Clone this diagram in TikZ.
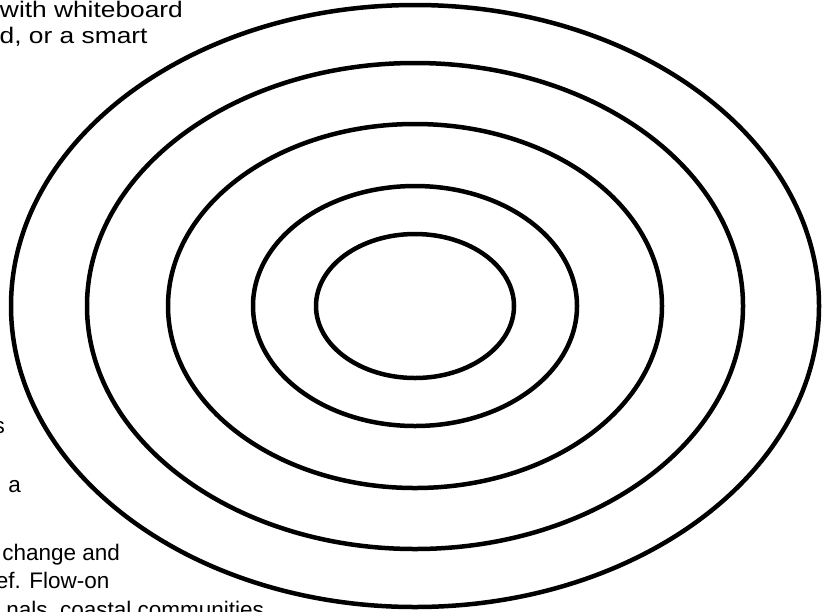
\documentclass[tikz,border=0pt]{standalone}
\usepackage{fontspec}
\setmainfont{Liberation Sans}
\begin{document}
\begin{tikzpicture}[x=1pt,y=-1pt,
  ring/.style={draw=black,line width=4.5pt},
  txt/.style={inner sep=0pt,outer sep=0pt,font=\fontsize{22.5pt}{26pt}\selectfont},
  widetxt/.style={txt}]
\useasboundingbox (0,0) rectangle (834,611);
\clip (0,0) rectangle (834,611);
\coordinate (c) at (415,306);
\draw[ring] (c) ellipse [x radius=404pt, y radius=301pt];
\draw[ring] (c) ellipse [x radius=328pt, y radius=243pt];
\draw[ring] (c) ellipse [x radius=247pt, y radius=182pt];
\draw[ring] (c) ellipse [x radius=162pt, y radius=120pt];
\draw[ring] (c) ellipse [x radius=99pt, y radius=72pt];
\node[widetxt,anchor=base west] (t1) at (0,17) {\scalebox{1.17}[1]{with whiteboard}};
\node[widetxt,anchor=base east] (t2) at (147.5,43) {\scalebox{1.17}[1]{d, or a smart}};
\node[txt,anchor=base east] (t3) at (5,433) {s};
\node[txt,anchor=base west] (t4) at (8.5,492) {a};
\node[txt,anchor=base east] (t5) at (120,560) {change and};
\node[txt,anchor=base east] (t6) at (109.3,588) {ef. Flow-on};
\node[txt,anchor=base east] (t7) at (264,617) {nals, coastal communities};
\end{tikzpicture}
\end{document}
